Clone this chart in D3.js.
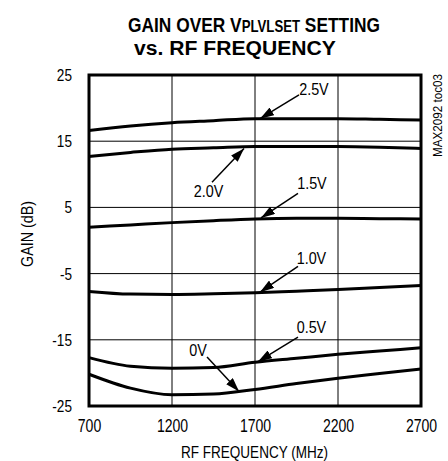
<!DOCTYPE html>
<html>
<head>
<meta charset="utf-8">
<script src="https://cdn.jsdelivr.net/npm/d3@7"></script>
<style>
  body { margin: 0; background: #fff; }
  svg text { font-family: "Liberation Sans", Arial, sans-serif; fill: #000; }
</style>
</head>
<body>
<div id="chart"></div>
<script>
// x positions (MHz) at which the curves were read
const freqs = [700, 950, 1200, 1450, 1700, 1950, 2200, 2450, 2700];

// gain (dB) for each VPLVLSET setting
const gain25 = [16.6, 17.3, 17.8, 18.1, 18.4, 18.4, 18.4, 18.3, 18.2];
const gain20 = [12.7, 13.3, 13.8, 14.0, 14.2, 14.2, 14.2, 14.1, 13.9];
const gain15 = [2.0, 2.35, 2.7, 3.0, 3.25, 3.35, 3.35, 3.3, 3.25];
const gain10 = [-7.7, -8.1, -8.15, -8.05, -7.9, -7.65, -7.4, -7.1, -6.8];
const gain05 = [-17.7, -19.0, -19.3, -19.2, -18.4, -17.8, -17.2, -16.7, -16.2];
const gain00 = [-20.2, -22.3, -23.3, -23.2, -22.5, -21.6, -20.8, -20.1, -19.4];

const seriesNames = ["2.5V", "2.0V", "1.5V", "1.0V", "0.5V", "0V"];
const seriesValues = [gain25, gain20, gain15, gain10, gain05, gain00];

const xTicks = [700, 1200, 1700, 2200, 2700];
const yTicks = [-25, -15, -5, 5, 15, 25];

// label text centre and arrow tail / head, in data units
const annotations = [
  { label: "2.5V", tx: 2055, ty: 22.9, x1: 1965, y1: 22.0, x2: 1730, y2: 18.4 },
  { label: "2.0V", tx: 1420, ty: 7.5, x1: 1441, y1: 8.8, x2: 1634, y2: 13.9 },
  { label: "1.5V", tx: 2043, ty: 8.7, x1: 1959, y1: 7.1, x2: 1736, y2: 3.4 },
  { label: "1.0V", tx: 2040, ty: -2.7, x1: 1959, y1: -3.9, x2: 1730, y2: -7.8 },
  { label: "0.5V", tx: 2040, ty: -13.0, x1: 1959, y1: -14.6, x2: 1718, y2: -18.3 },
  { label: "0V", tx: 1357, ty: -16.6, x1: 1411, y1: -17.6, x2: 1604, y2: -22.8 }
];

const W = 448, H = 461;
const margin = { top: 75, right: 27, bottom: 55, left: 89 };
const width = W - margin.left - margin.right;
const height = H - margin.top - margin.bottom;

// squeeze text horizontally to mimic the condensed face of the original
function condense(sel, k) {
  sel.each(function () {
    const len = this.getComputedTextLength();
    d3.select(this)
      .attr("textLength", len * k)
      .attr("lengthAdjust", "spacingAndGlyphs");
  });
}

const root = d3.select("#chart").append("svg")
  .attr("width", W)
  .attr("height", H);

// title, scaled to the width of the original lines
function titleLine(cx, baseline, targetWidth) {
  const g = root.append("g");
  const t = g.append("text")
    .attr("text-anchor", "middle")
    .style("font-size", "21px")
    .style("font-weight", "bold");
  return { g, t, cx, baseline, targetWidth };
}
const t1 = titleLine(254, 32, 252);
t1.t.append("tspan").text("GAIN OVER V");
t1.t.append("tspan").style("font-size", "16px").text("PLVLSET");
t1.t.append("tspan").text(" SETTING");
const t2 = titleLine(235, 55, 202);
t2.t.text("vs. RF FREQUENCY");
[t1, t2].forEach((l) => {
  const w = l.t.node().getBBox().width;
  l.g.attr("transform", `translate(${l.cx},${l.baseline}) scale(${l.targetWidth / w},1)`);
});

const svg = root.append("g")
  .attr("transform", `translate(${margin.left},${margin.top})`);

const x = d3.scaleLinear().domain([700, 2700]).range([0, width]);
const y = d3.scaleLinear().domain([-25, 25]).range([height, 0]);

// grid
svg.append("g")
  .selectAll("line")
  .data(xTicks.slice(1, -1))
  .enter()
  .append("line")
  .attr("x1", (d) => x(d))
  .attr("x2", (d) => x(d))
  .attr("y1", 0)
  .attr("y2", height)
  .attr("stroke", "#000")
  .attr("stroke-width", 1);

svg.append("g")
  .selectAll("line")
  .data(yTicks.slice(1, -1))
  .enter()
  .append("line")
  .attr("x1", 0)
  .attr("x2", width)
  .attr("y1", (d) => y(d))
  .attr("y2", (d) => y(d))
  .attr("stroke", "#000")
  .attr("stroke-width", 1);

// axes (labels only), plain hyphen for negatives like the original
const xAxis = d3.axisBottom(x)
  .tickValues(xTicks)
  .tickFormat((d) => String(d))
  .tickSize(0)
  .tickPadding(13);
svg.append("g")
  .attr("transform", `translate(0,${height})`)
  .call(xAxis)
  .call((g) => g.select(".domain").remove())
  .selectAll("text")
  .style("font-size", "18px")
  .style("font-family", "'Liberation Sans', sans-serif")
  .attr("fill", "#000")
  .call(condense, 0.78);

const yAxis = d3.axisLeft(y)
  .tickValues(yTicks)
  .tickFormat((d) => String(d))
  .tickSize(0)
  .tickPadding(17);
svg.append("g")
  .call(yAxis)
  .call((g) => g.select(".domain").remove())
  .selectAll("text")
  .style("font-size", "17px")
  .style("font-family", "'Liberation Sans', sans-serif")
  .attr("fill", "#000")
  .call(condense, 0.8);

// curves
const line = d3.line()
  .x((d, i) => x(freqs[i]))
  .y((d) => y(d))
  .curve(d3.curveMonotoneX);

svg.append("g")
  .selectAll("path")
  .data(seriesValues)
  .enter()
  .append("path")
  .attr("class", (d, i) => "curve v" + seriesNames[i].replace(".", ""))
  .attr("d", line)
  .attr("fill", "none")
  .attr("stroke", "#000")
  .attr("stroke-width", 3);

// frame
svg.append("rect")
  .attr("width", width)
  .attr("height", height)
  .attr("fill", "none")
  .attr("stroke", "#000")
  .attr("stroke-width", 3);

// annotations
root.append("defs")
  .append("marker")
  .attr("id", "arrow")
  .attr("viewBox", "0 0 14 9")
  .attr("refX", 14)
  .attr("refY", 4.5)
  .attr("markerWidth", 14)
  .attr("markerHeight", 9)
  .attr("markerUnits", "userSpaceOnUse")
  .attr("orient", "auto")
  .append("path")
  .attr("d", "M0,0 L14,4.5 L0,9 Z")
  .attr("fill", "#000");

const ann = svg.append("g");
annotations.forEach((a) => {
  ann.append("line")
    .attr("x1", x(a.x1))
    .attr("y1", y(a.y1))
    .attr("x2", x(a.x2))
    .attr("y2", y(a.y2))
    .attr("stroke", "#000")
    .attr("stroke-width", 1.5)
    .attr("marker-end", "url(#arrow)");
  ann.append("text")
    .attr("x", x(a.tx))
    .attr("y", y(a.ty))
    .attr("dy", "0.36em")
    .attr("text-anchor", "middle")
    .style("font-size", "16.5px")
    .text(a.label)
    .call(condense, 0.87);
});

// axis titles
root.append("text")
  .attr("x", 254.5)
  .attr("y", 458)
  .attr("text-anchor", "middle")
  .style("font-size", "17px")
  .text("RF FREQUENCY (MHz)")
  .attr("textLength", 147)
  .attr("lengthAdjust", "spacingAndGlyphs");

root.append("text")
  .attr("transform", "translate(33,234) rotate(-90)")
  .attr("text-anchor", "middle")
  .style("font-size", "17px")
  .text("GAIN (dB)")
  .attr("textLength", 66)
  .attr("lengthAdjust", "spacingAndGlyphs");

// part id
root.append("text")
  .attr("transform", "translate(442,157) rotate(-90)")
  .style("font-size", "12px")
  .text("MAX2092 toc03")
  .attr("textLength", 83)
  .attr("lengthAdjust", "spacingAndGlyphs");
</script>
</body>
</html>
